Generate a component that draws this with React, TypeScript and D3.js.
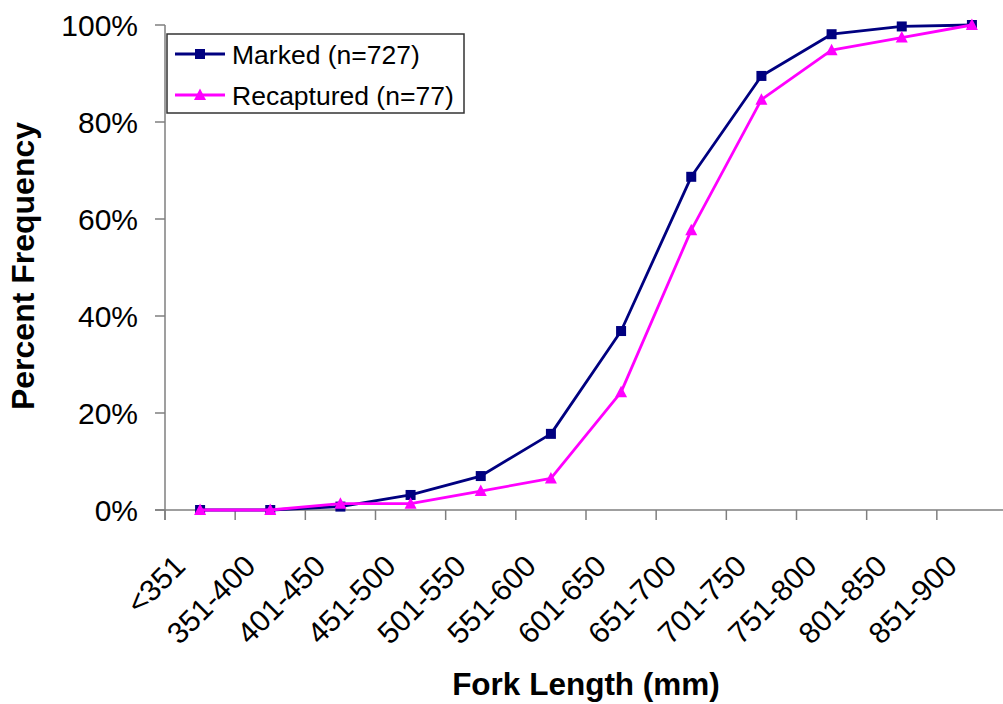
import React from "react";
import * as d3 from "d3";

// Fork-length classes (mm)
const categories = [
  "<351", "351-400", "401-450", "451-500", "501-550", "551-600",
  "601-650", "651-700", "701-750", "751-800", "801-850", "851-900",
];

// Cumulative percent frequency per class
const marked = [0, 0, 0.7, 3.1, 7.0, 15.7, 36.9, 68.7, 89.5, 98.1, 99.7, 100];
const recaptured = [0, 0, 1.3, 1.3, 3.9, 6.5, 24.3, 57.7, 84.6, 94.8, 97.4, 100];

const yTicks = [0, 20, 40, 60, 80, 100];

const seriesNames = ["Marked (n=727)", "Recaptured (n=77)"];

const W = 1003;
const H = 704;
const FONT = "'Liberation Sans', Arial, Helvetica, sans-serif";
const NAVY = "#000080";
const MAGENTA = "#FF00FF";
const AXIS = "#7f7f7f";

export default function App() {
  const left = 165;
  const right = 1007;
  const top = 25;
  const bottom = 510;

  const x = d3.scaleBand<string>().domain(categories).range([left, right]).padding(0);
  const y = d3.scaleLinear().domain([0, 100]).range([bottom, top]);
  const cx = (c: string) => (x(c) as number) + x.bandwidth() / 2;

  const line = d3
    .line<number>()
    .x((_, i) => cx(categories[i]))
    .y((d) => y(d));

  const square = (px: number, py: number, key: string) => (
    <rect key={key} x={px - 5} y={py - 5} width={10} height={10} fill={NAVY} />
  );
  const triangle = (px: number, py: number, key: string) => (
    <path
      key={key}
      d={`M${px},${py - 6.5}L${px + 6},${py + 5}L${px - 6},${py + 5}Z`}
      fill={MAGENTA}
    />
  );

  const tickBounds = d3.range(categories.length + 1).map((i) => left + i * x.bandwidth());

  return (
    <svg
      width={W}
      height={H}
      style={{ position: "absolute", left: 0, top: 0, background: "#fff" }}
      fontFamily={FONT}
    >
      <rect width={W} height={H} fill="#fff" />

      {/* y axis */}
      <line x1={left} x2={left} y1={top} y2={bottom + 10} stroke={AXIS} strokeWidth={1.5} />
      {yTicks.map((t) => (
        <g key={t}>
          <line x1={left - 10} x2={left} y1={y(t)} y2={y(t)} stroke={AXIS} strokeWidth={1.5} />
          <text x={138} y={y(t) + 10.7} textAnchor="end" fontSize={30} fill="#000">
            {`${t}%`}
          </text>
        </g>
      ))}

      {/* x axis */}
      <line x1={left - 10} x2={right} y1={bottom} y2={bottom} stroke={AXIS} strokeWidth={1.5} />
      {tickBounds.map((tx, i) => (
        <line key={i} x1={tx} x2={tx} y1={bottom} y2={bottom + 10} stroke={AXIS} strokeWidth={1.5} />
      ))}
      {categories.map((c) => {
        const ax = cx(c) - 13;
        const ay = 568;
        return (
          <text
            key={c}
            x={ax}
            y={ay}
            textAnchor="end"
            fontSize={30}
            fill="#000"
            transform={`rotate(-45 ${ax} ${ay})`}
          >
            {c}
          </text>
        );
      })}

      {/* series */}
      <path d={line(marked) || ""} fill="none" stroke={NAVY} strokeWidth={2.8} strokeLinejoin="round" />
      {marked.map((v, i) => square(cx(categories[i]), y(v), `m${i}`))}
      <path d={line(recaptured) || ""} fill="none" stroke={MAGENTA} strokeWidth={2.8} strokeLinejoin="round" />
      {recaptured.map((v, i) => triangle(cx(categories[i]), y(v), `r${i}`))}

      {/* axis titles */}
      <text
        x={586}
        y={695}
        textAnchor="middle"
        fontSize={31.5}
        fontWeight="bold"
        fill="#000"
      >
        Fork Length (mm)
      </text>
      <text
        transform={`translate(34 266) rotate(-90)`}
        textAnchor="middle"
        fontSize={32}
        fontWeight="bold"
        fill="#000"
      >
        Percent Frequency
      </text>

      {/* legend */}
      <g>
        <rect x={167} y={34} width={297} height={79} fill="#fff" stroke="#333" strokeWidth={1.5} />
        <line x1={175} x2={225} y1={54} y2={54} stroke={NAVY} strokeWidth={2.8} />
        {square(200, 54, "lm")}
        <text x={232} y={64} fontSize={26.5} fill="#000">{seriesNames[0]}</text>
        <line x1={175} x2={225} y1={95} y2={95} stroke={MAGENTA} strokeWidth={2.8} />
        {triangle(200, 95, "lr")}
        <text x={232} y={105} fontSize={26.5} fill="#000">{seriesNames[1]}</text>
      </g>
    </svg>
  );
}
